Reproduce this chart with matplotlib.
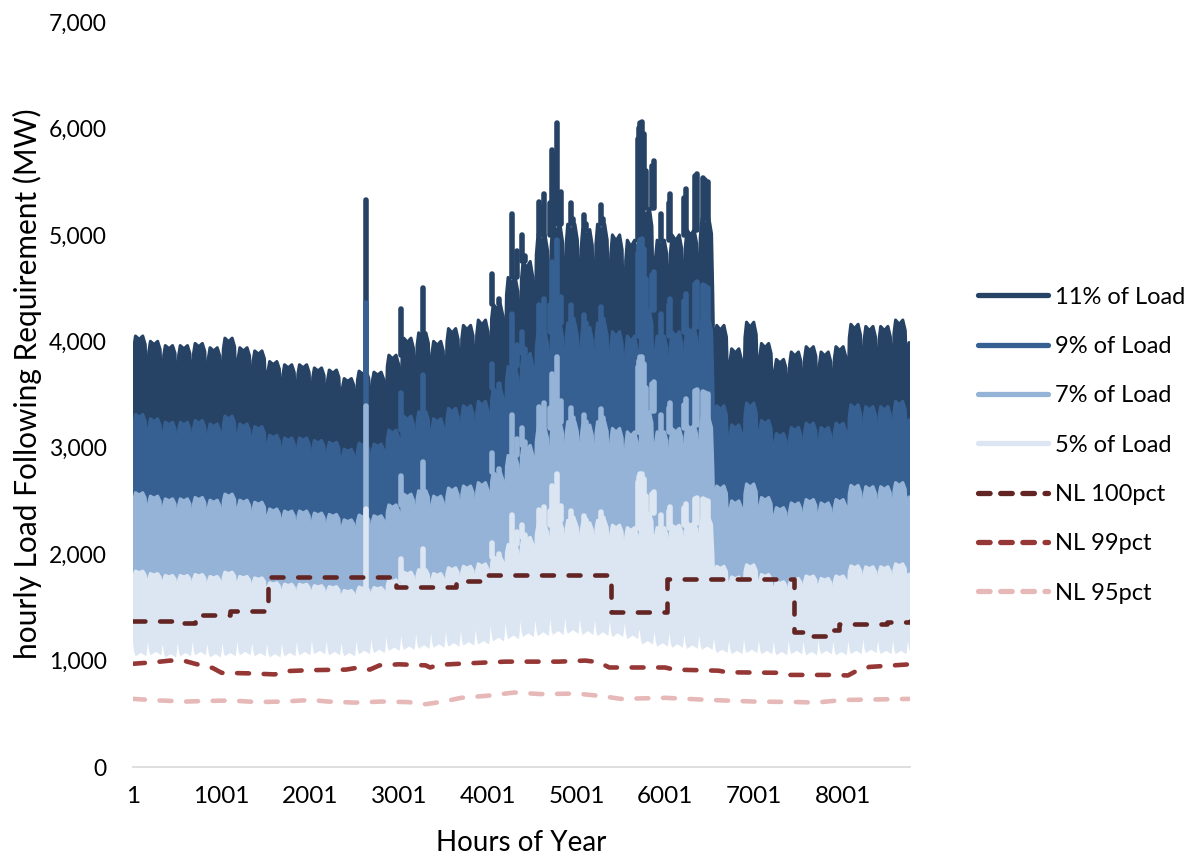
import numpy as np
import matplotlib
matplotlib.use("Agg")
import matplotlib.pyplot as plt
from matplotlib.lines import Line2D

# weekly envelope of the "11% of Load" series (MW)
peak11 = [4050, 4000, 3960, 3960, 3980, 3940, 4030, 3940, 3910, 3810, 3780, 3780, 3750,
          3730, 3650, 3720, 3710, 3870, 4030, 4080, 4000, 4120, 4150, 4200, 4350, 4600,
          4750, 5000, 5100, 5100, 5050, 5100, 5000, 4950, 5250, 4950, 5000, 5050, 5150,
          4150, 3930, 4180, 3980, 3830, 3900, 3950, 3900, 3950, 4160, 4140, 4140, 4200, 4100]
dip11 = [3650, 3620, 3600, 3580, 3600, 3560, 3620, 3560, 3540, 3460, 3420, 3420, 3400,
         3380, 3330, 3380, 3380, 3450, 3550, 3600, 3550, 3600, 3650, 3650, 3800, 3950,
         4050, 4250, 4300, 4350, 4300, 4350, 4300, 4200, 4400, 4300, 4350, 4400, 4450,
         3600, 3450, 3600, 3500, 3420, 3450, 3500, 3450, 3500, 3650, 3650, 3650, 3700, 3650]
# weekly minimum of the "5% of Load" series (MW)
low5 = [1040, 1050, 1030, 1040, 1050, 1030, 1040, 1050, 1040, 1030, 1040, 1050, 1060,
        1050, 1040, 1060, 1070, 1090, 1100, 1110, 1120, 1130, 1140, 1150, 1180, 1200,
        1220, 1230, 1240, 1250, 1240, 1230, 1220, 1200, 1150, 1130, 1120, 1110, 1100,
        1070, 1060, 1070, 1060, 1050, 1060, 1050, 1060, 1050, 1060, 1070, 1060, 1060, 1060]
# single-day spikes of the 11% series
spike_hours = [2630, 3020, 3265, 4050, 4130, 4275, 4330, 4390, 4420, 4580, 4610, 4630, 4700,
               4725, 4760, 4780, 4830, 4940, 4965, 5085, 5110, 5275, 5300, 5690, 5700, 5720,
               5740, 5760, 5780, 5850, 5870, 5950, 6040, 6060, 6210, 6230, 6340, 6360, 6430,
               6450, 6480]
spike_vals = [5330, 4300, 4500, 4630, 4400, 5200, 4850, 5000, 4800, 5310, 5250, 5380, 5300,
              5800, 5750, 6050, 5400, 5300, 5150, 5190, 5100, 5280, 5150, 5900, 6000, 6050,
              6060, 5950, 5600, 5650, 5690, 5200, 5300, 5380, 5350, 5430, 5550, 5570, 5530,
              5520, 5500]

pcts = [11, 9, 7, 5]
labels = ["11% of Load", "9% of Load", "7% of Load", "5% of Load"]
blues = ["#264264", "#376092", "#95B3D7", "#DCE6F2"]

nl100_hours = [1, 560, 700, 1090, 1520, 2970, 3645, 3985, 5390, 6020, 7450, 7600, 7810, 7960, 8500, 8760]
nl100_vals = [1375, 1350, 1430, 1465, 1785, 1695, 1745, 1805, 1460, 1770, 1265, 1235, 1290, 1345, 1360, 1370]
nl99_hours = [1, 250, 420, 590, 700, 900, 1000, 1300, 1600, 1700, 2000, 2400, 2550, 2670, 2780,
              3000, 3300, 3350, 3450, 3800, 4200, 4800, 5100, 5250, 5370, 6000, 6100, 6600, 6700,
              7300, 7400, 7900, 8060, 8150, 8300, 8760]
nl99_vals = [970, 985, 1000, 995, 970, 930, 885, 880, 870, 900, 910, 915, 935, 915, 955,
             965, 955, 935, 960, 975, 990, 990, 1000, 985, 935, 935, 915, 905, 890,
             885, 865, 865, 860, 900, 940, 965]
nl95_hours = [1, 300, 600, 800, 1100, 1400, 1700, 2000, 2200, 2500, 2800, 3100, 3300, 3500,
              3700, 4000, 4300, 4600, 5000, 5300, 5500, 6000, 6500, 7000, 7500, 7700, 8000, 8400, 8760]
nl95_vals = [640, 625, 615, 620, 625, 610, 615, 630, 615, 605, 615, 610, 590, 615,
             650, 670, 700, 685, 690, 665, 640, 650, 630, 615, 610, 605, 630, 635, 640]

xticks = [1, 1001, 2001, 3001, 4001, 5001, 6001, 7001, 8001]
HOURS = 8760


def top_edge(scale):
    xs, ys = [], []
    for k, (p, d) in enumerate(zip(peak11, dip11)):
        s = 1 + 168 * k
        a = p - d
        for o, v in [(0, d), (10, p - 0.25 * a), (28, p), (70, p - 0.08 * a),
                     (110, p), (138, p - 0.2 * a), (152, d)]:
            if s + o <= HOURS:
                xs.append(s + o)
                ys.append(v * scale)
    xs.append(HOURS)
    ys.append(ys[-1])
    return xs, ys


def bottom_edge(scale):
    xs, ys = [], []
    for k, lo in enumerate(low5):
        s = 1 + 168 * k
        n = 0.12 * lo
        for o, v in [(0, lo + n), (14, lo + 0.3 * n), (30, lo), (90, lo + 0.25 * n),
                     (150, lo), (160, lo + 0.5 * n)]:
            if s + o <= HOURS:
                xs.append(s + o)
                ys.append(v * scale)
    xs.append(HOURS)
    ys.append(ys[-1])
    return xs, ys


fig = plt.figure(figsize=(11.9, 8.56), dpi=100)
plt.rcParams['font.family'] = ['Lato', 'DejaVu Sans']
ax = fig.add_axes([133 / 1190, 1 - 767 / 856, 777 / 1190, 745 / 856])

for pct, col in zip(pcts, blues):
    tx, ty = top_edge(pct / 11)
    bx, by = bottom_edge(pct / 5)
    ax.fill(tx + bx[::-1], ty + by[::-1], color=col, lw=0)
    ax.plot(tx, ty, color=col, lw=2.2, solid_joinstyle='round')
    base = [peak11[(h - 1) // 168] * pct / 11 for h in spike_hours]
    lc = ax.vlines(spike_hours, base, np.array(spike_vals) * pct / 11, color=col, lw=4)
    lc.set_capstyle('round')

dash_kw = dict(lw=3.3, dashes=(2.6, 3.2), dash_capstyle='round')
ax.plot(nl100_hours, nl100_vals, color="#632523", drawstyle='steps-post', **dash_kw)
ax.plot(nl99_hours, nl99_vals, color="#953735", **dash_kw)
ax.plot(nl95_hours, nl95_vals, color="#E6B9B8", **dash_kw)

ax.set_xlim(1, HOURS)
ax.set_ylim(0, 7000)
ax.set_xticks(xticks)
ax.set_yticks(range(0, 7001, 1000))
ax.set_yticklabels([f"{v:,}" for v in range(0, 7001, 1000)])
for s in ['top', 'right', 'left']:
    ax.spines[s].set_visible(False)
ax.spines['bottom'].set_color("#D9D9D9")
ax.spines['bottom'].set_linewidth(1.2)
ax.tick_params(axis='y', length=0, pad=19, labelsize=16.5)
ax.tick_params(axis='x', length=0, pad=14, labelsize=17.5)

fig.text(27 / 1190, 1 - 384 / 856, "hourly Load Following Requirement (MW)", rotation=90,
         ha='center', va='center', fontsize=21.5)
fig.text(521 / 1190, 1 - 843 / 856, "Hours of Year", ha='center', va='center', fontsize=20)

handles = [Line2D([], [], color=c, lw=3.8, solid_capstyle='round') for c in blues]
for c in ["#632523", "#953735", "#E6B9B8"]:
    handles.append(Line2D([], [], color=c, lw=3.8, dashes=(2.2, 2.0), dash_capstyle='round'))
fig.legend(handles, labels + ["NL 100pct", "NL 99pct", "NL 95pct"], loc='center left',
           bbox_to_anchor=(0.812, 1 - 445 / 856), frameon=False, fontsize=17,
           handlelength=2.95, handletextpad=0.3, labelspacing=1.2, borderpad=0)

fig.savefig("out.png", dpi=100)
